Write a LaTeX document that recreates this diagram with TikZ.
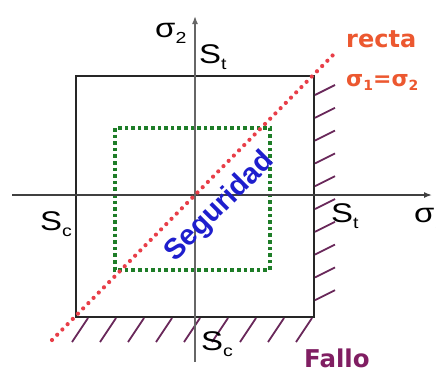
\documentclass[tikz,border=0pt]{standalone}
\usepackage{graphicx}
\usepackage{fontspec}
\setmainfont{Liberation Sans}
\newfontfamily\djv{DejaVu Sans}
\usetikzlibrary{arrows.meta}
\definecolor{redline}{RGB}{232,62,72}
\definecolor{greendot}{RGB}{30,125,40}
\definecolor{hatchc}{RGB}{105,40,90}
\definecolor{rectac}{RGB}{236,88,48}
\definecolor{falloc}{RGB}{128,30,98}
\definecolor{segc}{RGB}{30,30,205}
\newcommand\bigsz{\fontsize{27}{27}\selectfont}
\newcommand\subsz{\fontsize{16}{16}\selectfont}
\newcommand\labsub[2]{\scalebox{1.22}[1]{{\bigsz #1}\raisebox{-6pt}{\subsz #2}}}
\begin{document}
\begin{tikzpicture}[x=1pt,y=-1pt,
  axis/.style={line width=1.5pt,draw=black!75,-{Latex[length=8pt,width=6pt]}},
  frame/.style={line width=1.8pt,draw=black!85},
  safebox/.style={line width=4pt,draw=greendot,dash pattern=on 3.6pt off 3pt},
  diag/.style={line width=4.2pt,draw=redline,line cap=round,dash pattern=on 0pt off 7.4pt},
  hatchline/.style={line width=1.8pt,draw=hatchc},
  lab/.style={inner sep=0pt,anchor=base west}]
\useasboundingbox (0,0) rectangle (436,370);
% corners
\coordinate (TL) at (76,76);
\coordinate (BR) at (314,317);
\coordinate (gTL) at (115,128);
\coordinate (gBR) at (270,270);
\coordinate (xL) at (12,195);
\coordinate (xR) at (432,195);
\coordinate (yB) at (195,362);
\coordinate (yT) at (195,16);
\coordinate (dA) at (52,340);
\coordinate (dB) at (335,53);
% square
\draw[frame] (TL) rectangle (BR);
% hatches
\foreach \k in {0,...,9} \draw[hatchline] (315,95+22.8*\k) -- ++(20,-10);
\foreach \k in {0,...,8} \draw[hatchline] (88+28*\k,318) -- ++(-16,24);
% green dotted safety box
\draw[safebox] (gTL) rectangle (gBR);
% axes
\draw[axis] (xL) -- (xR);
\draw[axis,draw=black!60] (yB) -- (yT);
% diagonal
\draw[diag] (dA) -- (dB);
% labels
\node[lab] (s2) at (155,37) {\labsub{σ}{2}};
\node[lab] (stt) at (199,63) {\labsub{S}{t}};
\node[lab] (scl) at (40,230) {\labsub{S}{c}};
\node[lab] (str) at (331,222) {\labsub{S}{t}};
\node[lab] (s1) at (414,222) {\labsub{σ}{1}};
\node[lab] (scb) at (201,350) {\labsub{S}{c}};
\node[lab,text=falloc] (fallo) at (304,367) {\djv\bfseries\fontsize{24.5}{24.5}\selectfont Fallo};
\node[lab,text=rectac] (recta) at (346,47) {\djv\bfseries\fontsize{24}{24}\selectfont recta};
\node[lab,text=rectac] (eq) at (346,86) {\djv\bfseries\fontsize{22}{22}\selectfont σ\raisebox{-4pt}{\fontsize{14}{14}\selectfont 1}=σ\raisebox{-4pt}{\fontsize{14}{14}\selectfont 2}};
\node[inner sep=0pt,text=segc,rotate=45] (seg) at (220,207) {\bfseries\fontsize{29}{29}\selectfont Seguridad};
\end{tikzpicture}
\end{document}
